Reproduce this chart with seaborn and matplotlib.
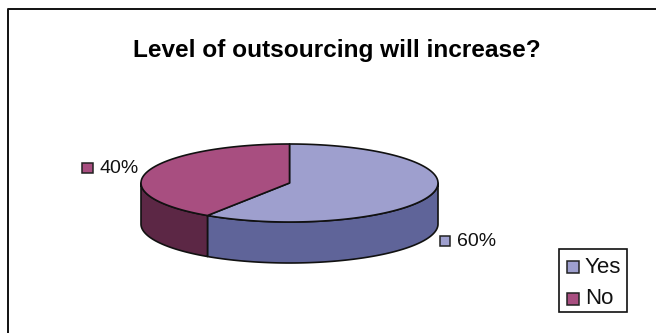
import numpy as np
import matplotlib
matplotlib.use("Agg")
import matplotlib.pyplot as plt
from matplotlib.patches import Rectangle
import seaborn as sns

title = "Level of outsourcing will increase?"
categories = ["Yes", "No"]
shares = [60, 40]
top_colors = ["#9E9FCE", "#A84E80"]
side_colors = ["#5F6499", "#5C2745"]

sns.set_theme(style="white")
plt.rcParams["font.family"] = ["Liberation Sans", "DejaVu Sans"]

W, H = 656, 333
fig = plt.figure(figsize=(W / 100, H / 100), dpi=100)
ax = fig.add_axes([0, 0, 1, 1])
ax.set_xlim(0, W)
ax.set_ylim(H, 0)
ax.axis("off")

# Pie geometry in pixel units
cx, cy, rx, ry, depth = 289.5, 183, 148.5, 39, 41
perspective = -2.6  # degrees of angular foreshortening on the tilted disc
INK = "#111111"


def rim(a0, a1, n=200):
    # angles run clockwise from twelve o'clock
    deg = np.linspace(a0, a1, n)
    t = np.radians(deg + perspective * np.sin(np.radians(2 * deg)))
    return cx + rx * np.sin(t), cy - ry * np.cos(t)


# Chart area outline: only the top and left edges fall inside the frame
ax.plot([7.5, 7.5, W], [H, 8.5, 8.5], color=INK, lw=1.4, clip_on=False, zorder=1)

ax.text(336.5, 50.5, title, ha="center", va="center", fontsize=17.6, fontweight="bold", color="black")

fractions = np.array(shares) / sum(shares)
edges = np.concatenate([[0], np.cumsum(fractions) * 360])

# Visible side wall spans the lower half of the rim (90 to 270 degrees clockwise)
for i in range(len(shares)):
    a0, a1 = max(edges[i], 90), min(edges[i + 1], 270)
    if a1 > a0:
        x, y = rim(a0, a1)
        ax.fill(np.r_[x, x[::-1]], np.r_[y, y[::-1] + depth],
                facecolor=side_colors[i], edgecolor=INK, lw=1.2, joinstyle="round", zorder=2)

# Top face wedges
for i in range(len(shares)):
    x, y = rim(edges[i], edges[i + 1])
    ax.fill(np.r_[cx, x], np.r_[cy, y],
            facecolor=top_colors[i], edgecolor=INK, lw=1.2, joinstyle="round", zorder=3)

# Data labels with colour keys
label_pos = [(439.5, 240.5), (82, 167.5)]
for i, (lx, ly) in enumerate(label_pos):
    ax.add_patch(Rectangle((lx, ly - 5), 10.5, 10.5, facecolor=top_colors[i], edgecolor="#222222", lw=1.1, zorder=4))
    ax.text(lx + 17, ly + 1, f"{shares[i]}%", ha="left", va="center", fontsize=14, color="#111111")

# Legend box
ax.add_patch(Rectangle((558.5, 248.5), 68, 63.5, facecolor="white", edgecolor=INK, lw=1.2, zorder=4))
for i, name in enumerate(categories):
    ly = 267 + 31.5 * i
    ax.add_patch(Rectangle((566.5, ly - 6), 12.5, 12, facecolor=top_colors[i], edgecolor="#222222", lw=1.1, zorder=5))
    ax.text(585, ly + 0.5, name, ha="left", va="center", fontsize=16, color="#111111", zorder=5)

fig.savefig("out.png", dpi=100, facecolor="white")
